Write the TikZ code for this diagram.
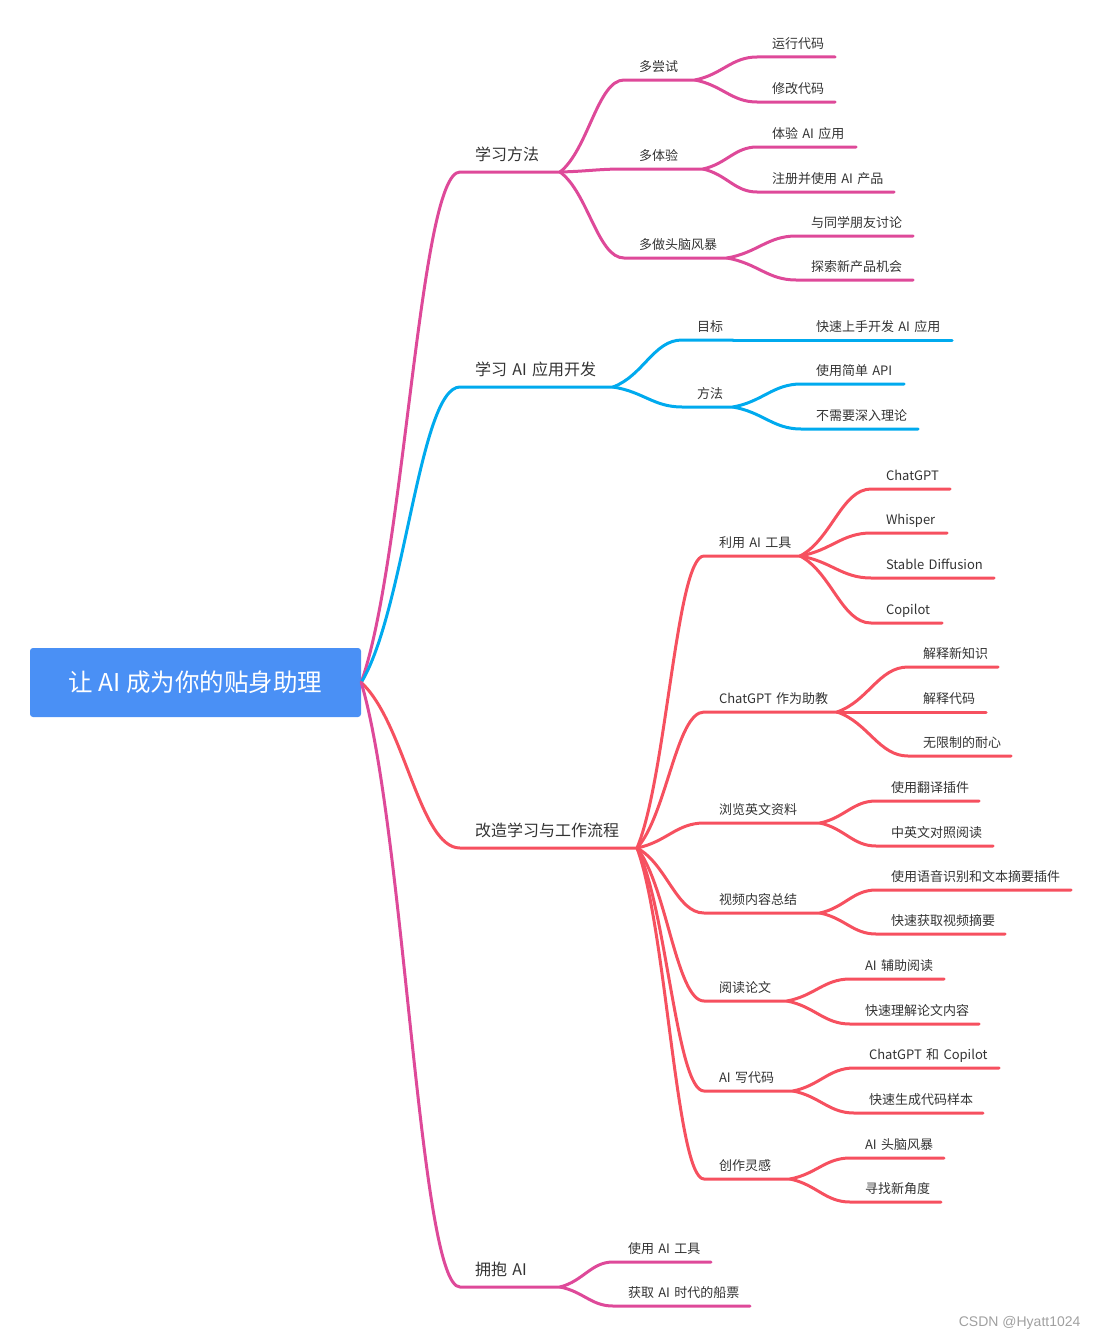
\documentclass[tikz,border=0pt]{standalone}
\usepackage{fontspec}
\setmainfont{Noto Sans CJK SC}
\newfontfamily\wmfont{Liberation Sans}
\usetikzlibrary{calc}
\setlength{\parindent}{0pt}

\definecolor{rootblue}{RGB}{74,144,245}
\definecolor{pk}{RGB}{222,73,153}
\definecolor{sky}{RGB}{0,170,238}
\definecolor{rd}{RGB}{246,80,95}
\definecolor{txt}{RGB}{51,51,51}
\definecolor{wmgray}{RGB}{160,160,160}

\tikzset{
  brc/.style={to path={let \p1=(\tikztostart), \p2=(\tikztotarget) in
      .. controls ({\x1+0.44*(\x2-\x1)},{\y1+0.24*(\y2-\y1)})
      and ({\x1+0.59*(\x2-\x1)},\y2) .. (\tikztotarget)}},
  conn/.style={line width=3pt, line cap=round, line join=round},
  pkline/.style={conn, draw=pk},
  skyline/.style={conn, draw=sky},
  rdline/.style={conn, draw=rd},
  topic/.style={anchor=south west, inner xsep=0pt, outer sep=0pt, align=left,
    text depth=0pt, text=txt, text width=#1,
    execute at begin node={\hspace*{15pt}}},
  lvone/.style={topic=#1, inner ysep=12pt, font=\fontsize{16}{19}\selectfont},
  lvtwo/.style={topic=#1, inner ysep=9pt, font=\fontsize{13}{16}\selectfont},
  leaf/.style={topic=#1, inner ysep=8.5pt, font=\fontsize{13}{16}\selectfont},
  rootbox/.style={fill=rootblue, rounded corners=3pt, minimum width=331pt,
    minimum height=69pt, text=white, font=\fontsize{24.5}{28}\selectfont}
}

\begin{document}
\begin{tikzpicture}[x=1pt,y=-1pt]
  \useasboundingbox (0,0) rectangle (1099,1338);

  %% root
  \node[rootbox] (root) at (195.5,682.5) {让~AI~成为你的贴身助理};

  %% topics
  \node[lvone=100pt] (lf) at (460,172) {学习方法};
  \node[lvtwo=71pt] (lf-a) at (624,80) {多尝试};
  \node[leaf=78pt] (lf-a1) at (757,57) {运行代码};
  \node[leaf=78pt] (lf-a2) at (757,102) {修改代码};
  \node[lvtwo=79pt] (lf-b) at (624,169) {多体验};
  \node[leaf=99pt] (lf-b1) at (757,147) {体验~AI~应用};
  \node[leaf=137pt] (lf-b2) at (757,192) {注册并使用~AI~产品};
  \node[lvtwo=103pt] (lf-c) at (624,258) {多做头脑风暴};
  \node[leaf=117pt] (lf-c1) at (796,236) {与同学朋友讨论};
  \node[leaf=117pt] (lf-c2) at (796,280) {探索新产品机会};

  \node[lvone=153pt] (ad) at (460,387) {学习~AI~应用开发};
  \node[lvtwo=51pt] (ad-a) at (682,340) {目标};
  \node[leaf=151pt] (ad-a1) at (801,340) {快速上手开发~AI~应用};
  \node[lvtwo=51pt] (ad-b) at (682,407) {方法};
  \node[leaf=103pt] (ad-b1) at (801,384) {使用简单~API};
  \node[leaf=117pt] (ad-b2) at (801,429) {不需要深入理论};

  \node[lvone=177pt] (wf) at (460,848) {改造学习与工作流程};
  \node[lvtwo=96pt] (wf-a) at (704,556) {利用~AI~工具};
  \node[leaf=79pt] (wf-a1) at (871,489) {ChatGPT};
  \node[leaf=76pt] (wf-a2) at (871,533) {Whisper};
  \node[leaf=123pt] (wf-a3) at (871,578) {Stable~Diffusion};
  \node[leaf=71pt] (wf-a4) at (871,623) {Copilot};
  \node[lvtwo=133pt] (wf-b) at (704,712) {ChatGPT~作为助教};
  \node[leaf=90pt] (wf-b1) at (908,667) {解释新知识};
  \node[leaf=78pt] (wf-b2) at (908,712) {解释代码};
  \node[leaf=103pt] (wf-b3) at (908,756) {无限制的耐心};
  \node[lvtwo=116pt] (wf-c) at (704,823) {浏览英文资料};
  \node[leaf=103pt] (wf-c1) at (876,801) {使用翻译插件};
  \node[leaf=117pt] (wf-c2) at (876,846) {中英文对照阅读};
  \node[lvtwo=116pt] (wf-d) at (704,913) {视频内容总结};
  \node[leaf=195pt] (wf-d1) at (876,890) {使用语音识别和文本摘要插件};
  \node[leaf=129pt] (wf-d2) at (876,934) {快速获取视频摘要};
  \node[lvtwo=83pt] (wf-e) at (704,1001) {阅读论文};
  \node[leaf=94pt] (wf-e1) at (850,979) {AI~辅助阅读};
  \node[leaf=129pt] (wf-e2) at (850,1024) {快速理解论文内容};
  \node[lvtwo=89pt] (wf-f) at (704,1091) {AI~写代码};
  \node[leaf=145pt] (wf-f1) at (854,1068) {ChatGPT~和~Copilot};
  \node[leaf=129pt] (wf-f2) at (854,1113) {快速生成代码样本};
  \node[lvtwo=86pt] (wf-g) at (704,1179) {创作灵感};
  \node[leaf=94pt] (wf-g1) at (850,1158) {AI~头脑风暴};
  \node[leaf=91pt] (wf-g2) at (850,1202) {寻找新角度};

  \node[lvone=100pt] (em) at (460,1287) {拥抱~AI};
  \node[leaf=98pt] (em-a) at (613,1262) {使用~AI~工具};
  \node[leaf=137pt] (em-b) at (613,1306) {获取~AI~时代的船票};

  %% branches from root
  \draw[pkline] (root.east) to[brc] (lf.south west) -- (lf.south east);
  \draw[skyline] (root.east) to[brc] (ad.south west) -- (ad.south east);
  \draw[rdline] (root.east) to[brc] (wf.south west) -- (wf.south east);
  \draw[pkline] (root.east) to[brc] (em.south west) -- (em.south east);

  %% learning methods
  \foreach \c in {lf-a,lf-b,lf-c}
    \draw[pkline] (lf.south east) to[brc] (\c.south west) -- (\c.south east);
  \foreach \b in {lf-a,lf-b,lf-c}
    \foreach \c in {1,2}
      \draw[pkline] (\b.south east) to[brc] (\b\c.south west) -- (\b\c.south east);

  %% app development
  \foreach \c in {ad-a,ad-b}
    \draw[skyline] (ad.south east) to[brc] (\c.south west) -- (\c.south east);
  \draw[skyline] (ad-a.south east) to[brc] (ad-a1.south west) -- (ad-a1.south east);
  \foreach \c in {1,2}
    \draw[skyline] (ad-b.south east) to[brc] (ad-b\c.south west) -- (ad-b\c.south east);

  %% workflow
  \foreach \c in {wf-a,wf-b,wf-c,wf-d,wf-e,wf-f,wf-g}
    \draw[rdline] (wf.south east) to[brc] (\c.south west) -- (\c.south east);
  \foreach \c in {1,2,3,4}
    \draw[rdline] (wf-a.south east) to[brc] (wf-a\c.south west) -- (wf-a\c.south east);
  \foreach \c in {1,2,3}
    \draw[rdline] (wf-b.south east) to[brc] (wf-b\c.south west) -- (wf-b\c.south east);
  \foreach \b in {wf-c,wf-d,wf-e,wf-f,wf-g}
    \foreach \c in {1,2}
      \draw[rdline] (\b.south east) to[brc] (\b\c.south west) -- (\b\c.south east);

  %% embrace
  \foreach \c in {em-a,em-b}
    \draw[pkline] (em.south east) to[brc] (\c.south west) -- (\c.south east);

  %% watermark
  \node[anchor=base east, text=wmgray, font=\wmfont\fontsize{14}{16}\selectfont]
    (wm) at (1084,1326) {CSDN @Hyatt1024};
\end{tikzpicture}
\end{document}
